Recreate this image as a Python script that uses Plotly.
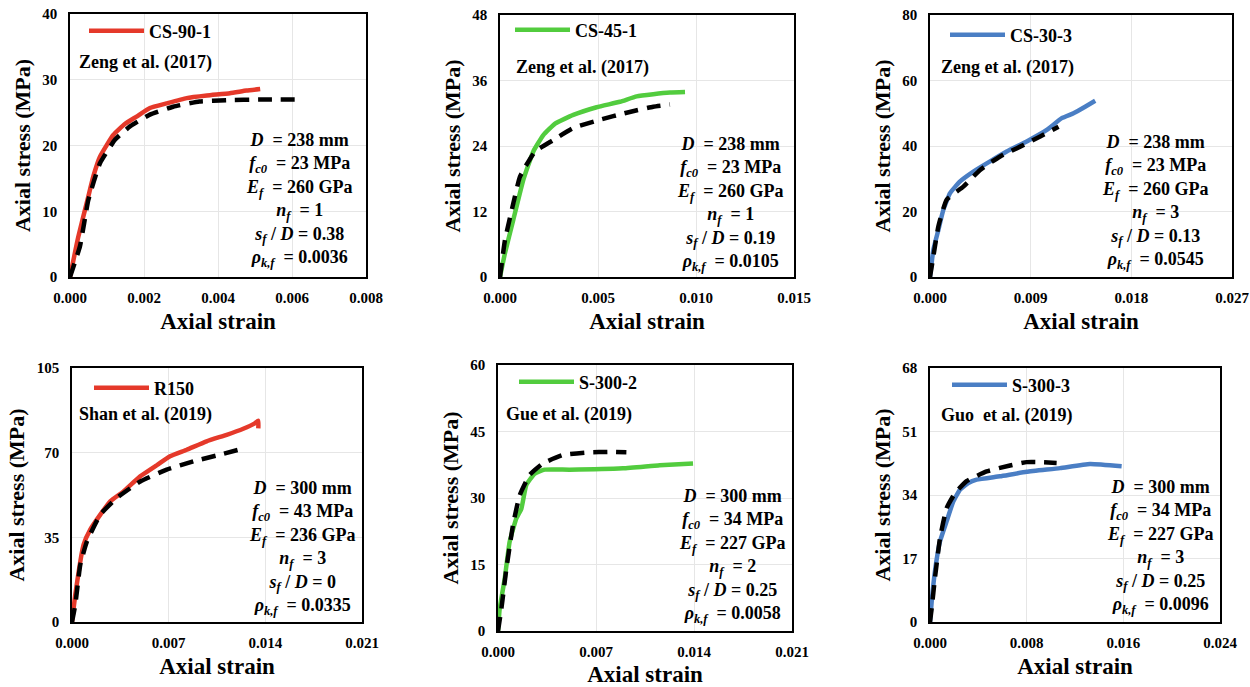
import plotly.graph_objects as go

# ---------------- data ----------------
cs90_test_x = [0, 0.00022, 0.000495, 0.00063, 0.00081, 0.00117, 0.00149, 0.0018, 0.00216, 0.00261, 0.00315, 0.0037, 0.00432, 0.00477, 0.00514]
cs90_test_y = [0, 6.0, 12.25, 15.3, 18.3, 21.6, 23.3, 24.4, 25.7, 26.4, 27.2, 27.6, 27.95, 28.35, 28.6]
cs90_model_x = [0, 0.00027, 0.000495, 0.00081, 0.00122, 0.00162, 0.00216, 0.00279, 0.0035, 0.00423, 0.00514, 0.00617]
cs90_model_y = [0, 4.7, 11.7, 17.3, 20.9, 22.9, 24.7, 25.9, 26.7, 26.9, 27.0, 27.0]

cs45_test_x = [0, 0.000255, 0.00068, 0.00119, 0.0017, 0.00221, 0.00281, 0.00374, 0.00493, 0.00612, 0.00697, 0.00782, 0.00867, 0.00944]
cs45_test_y = [0, 4.4, 10.5, 17.8, 23.0, 26.0, 28.1, 29.7, 31.1, 32.1, 33.1, 33.5, 33.8, 33.9]
cs45_model_x = [0, 0.000255, 0.00068, 0.00102, 0.00179, 0.00272, 0.00374, 0.0051, 0.00646, 0.00782, 0.00867]
cs45_model_y = [0, 6.8, 13.5, 18.4, 23.0, 25.1, 27.3, 28.8, 30.1, 31.2, 31.6]

cs30_test_x = [0, 0.0003, 0.00075, 0.00119, 0.00179, 0.00269, 0.00388, 0.00537, 0.00686, 0.00865, 0.01044, 0.01178, 0.01283, 0.01387, 0.01477]
cs30_test_y = [0, 8.3, 14.4, 20.5, 25.6, 29.2, 32.2, 35.3, 38.3, 41.4, 44.9, 48.5, 50.0, 52.0, 53.8]
cs30_model_x = [0, 0.0003, 0.00075, 0.00149, 0.00298, 0.00448, 0.00627, 0.00806, 0.00985, 0.01149]
cs30_model_y = [0, 6.3, 15.5, 23.6, 27.6, 32.7, 36.8, 39.8, 42.9, 45.9]

r150_test_x = [0, 0.00024, 0.00084, 0.00132, 0.00205, 0.00277, 0.00373, 0.00494, 0.00614, 0.0071, 0.00831, 0.00975, 0.0112, 0.0124, 0.0132, 0.01349, 0.01349]
r150_test_y = [0, 11.3, 32.0, 38.2, 44.4, 49.9, 54.0, 60.2, 64.8, 68.5, 71.2, 74.7, 77.4, 79.9, 82.0, 83.2, 80.0]
r150_model_x = [0, 0.00024, 0.0006, 0.00108, 0.00205, 0.00325, 0.00494, 0.00686, 0.00879, 0.01072, 0.01252]
r150_model_y = [0, 7.2, 23.7, 33.3, 44.4, 51.3, 58.1, 63.0, 66.4, 69.2, 71.9]

s3002_test_x = [0, 0.00012, 0.00048, 0.00083, 0.00131, 0.00167, 0.00202, 0.00262, 0.00333, 0.00512, 0.00893, 0.01155, 0.01393]
s3002_test_y = [0, 5.0, 11.8, 20.1, 25.4, 27.6, 32.9, 35.5, 36.4, 36.4, 36.7, 37.4, 37.8]
s3002_model_x = [0, 0.00024, 0.0006, 0.00107, 0.00155, 0.00226, 0.00321, 0.00464, 0.00655, 0.00786, 0.00917]
s3002_model_y = [0, 5.0, 14.1, 23.9, 30.6, 35.2, 37.8, 39.7, 40.3, 40.4, 40.3]

s3003_test_x = [0, 0.00014, 0.00041, 0.00083, 0.00138, 0.00193, 0.00248, 0.00317, 0.00386, 0.00579, 0.008, 0.01076, 0.01324, 0.01586]
s3003_test_y = [0, 5.5, 13.6, 21.6, 27.0, 32.3, 35.4, 37.2, 38.1, 39.0, 40.2, 41.2, 42.3, 41.7]
s3003_model_x = [0, 0.00014, 0.00041, 0.00083, 0.00138, 0.00207, 0.00303, 0.00469, 0.00662, 0.008, 0.0091, 0.01048]
s3003_model_y = [0, 3.7, 11.8, 22.5, 30.5, 34.5, 37.7, 40.3, 41.9, 42.8, 42.8, 42.6]

specimen_names = ["CS-90-1", "CS-45-1", "CS-30-3", "R150", "S-300-2", "S-300-3"]
sources = ["Zeng et al. (2017)", "Zeng et al. (2017)", "Zeng et al. (2017)",
           "Shan et al. (2019)", "Gue et al. (2019)", "Guo  et al. (2019)"]
x_max = [0.008, 0.015, 0.027, 0.021, 0.021, 0.024]
x_dtick = [0.002, 0.005, 0.009, 0.007, 0.007, 0.008]
y_max = [40, 48, 80, 105, 60, 68]
y_dtick = [10, 12, 20, 35, 15, 17]
D_vals = ["238", "238", "238", "300", "300", "300"]
fc0_vals = ["23", "23", "23", "43", "34", "34"]
Ef_vals = ["260", "260", "260", "236", "227", "227"]
nf_vals = ["1", "1", "3", "3", "2", "3"]
sfD_vals = ["0.38", "0.19", "0.13", "0", "0.25", "0.25"]
rho_vals = ["0.0036", "0.0105", "0.0545", "0.0335", "0.0058", "0.0096"]

tests = [(cs90_test_x, cs90_test_y), (cs45_test_x, cs45_test_y), (cs30_test_x, cs30_test_y),
         (r150_test_x, r150_test_y), (s3002_test_x, s3002_test_y), (s3003_test_x, s3003_test_y)]
models = [(cs90_model_x, cs90_model_y), (cs45_model_x, cs45_model_y), (cs30_model_x, cs30_model_y),
          (r150_model_x, r150_model_y), (s3002_model_x, s3002_model_y), (s3003_model_x, s3003_model_y)]

# ---------------- styling / layout ----------------
W, H = 1250, 687
RED, GREEN, BLUE = "#E5392A", "#52CC3E", "#4A7EC4"
colors = [RED, GREEN, BLUE, RED, GREEN, BLUE]
FONT = "Liberation Serif"

# plot boxes in pixels: (left, right, top, bottom)
boxes = [(70, 366, 14, 277), (500, 794, 15, 277), (930, 1232, 15, 277),
         (72, 362, 368, 622), (498, 792, 365, 631), (930, 1220, 368, 622)]
legend_pos = [(84, 31), (510, 30), (945, 35), (89, 388), (514, 382), (947, 385)]
source_pos = [(77, 63), (514, 67), (939, 67), (77, 414), (504, 414), (939, 415)]
param_pos = [(299, 200), (730, 204), (1155, 202), (302, 548), (732, 556), (1160, 547)]

def px(x):
    return x / W

def py(y):
    return 1 - y / H

fig = go.Figure()
layout = dict(
    width=W, height=H, margin=dict(l=0, r=0, t=0, b=0, autoexpand=False),
    paper_bgcolor="white", plot_bgcolor="white",
    font=dict(family=FONT, color="black"),
)
annotations = []

for i in range(6):
    n = i + 1
    xa = "x" if n == 1 else f"x{n}"
    ya = "y" if n == 1 else f"y{n}"
    leg = "legend" if n == 1 else f"legend{n}"
    tx, ty = tests[i]
    mx, my = models[i]
    fig.add_trace(go.Scatter(x=tx, y=ty, mode="lines", name=specimen_names[i],
                             line=dict(color=colors[i], width=4.5, shape="spline", smoothing=0.4),
                             xaxis=xa, yaxis=ya, legend=leg, showlegend=True))
    fig.add_trace(go.Scatter(x=mx, y=my, mode="lines", name="Model",
                             line=dict(color="black", width=4.5, dash="14px,9px", shape="spline", smoothing=0.4),
                             xaxis=xa, yaxis=ya, showlegend=False))
    l, r, t, b = boxes[i]
    axcommon = dict(showline=True, linecolor="black", linewidth=1.5, mirror=True,
                    showgrid=True, gridcolor="#E6E6E6", gridwidth=1, zeroline=False,
                    ticks="", tickfont=dict(family=FONT, size=15, color="black", weight="bold"))
    layout["xaxis" if n == 1 else f"xaxis{n}"] = dict(
        axcommon, domain=[px(l), px(r)], range=[0, x_max[i]], dtick=x_dtick[i], tick0=0,
        tickformat=".3f", anchor=ya, ticklabelstandoff=6,
        title=dict(text="<b>Axial strain</b>", font=dict(family=FONT, size=23), standoff=8))
    layout["yaxis" if n == 1 else f"yaxis{n}"] = dict(
        axcommon, domain=[py(b), py(t)], range=[0, y_max[i]], dtick=y_dtick[i], tick0=0,
        anchor=xa, ticklabelstandoff=8,
        title=dict(text="<b>Axial stress (MPa)</b>", font=dict(family=FONT, size=22), standoff=6))
    lx, ly = legend_pos[i]
    layout[leg] = dict(x=px(lx), y=py(ly), xanchor="left", yanchor="middle",
                       bgcolor="rgba(0,0,0,0)", borderwidth=0, itemwidth=55,
                       font=dict(family=FONT, size=18, color="black", weight="bold"))
    sx, sy = source_pos[i]
    annotations.append(dict(xref="paper", yref="paper", x=px(sx), y=py(sy),
                            xanchor="left", yanchor="middle", showarrow=False,
                            text=f"<b>{sources[i]}</b>",
                            font=dict(family=FONT, size=18, color="black")))
    cx, cy = param_pos[i]
    block = "<br>".join([
        f"<b><i>D</i>  = {D_vals[i]} mm</b>",
        f"<b><i>f<sub>c0</sub></i>  = {fc0_vals[i]} MPa</b>",
        f"<b><i>E<sub>f</sub></i>  = {Ef_vals[i]} GPa</b>",
        f"<b><i>n<sub>f</sub></i>  = {nf_vals[i]}</b>",
        f"<b><i>s<sub>f</sub></i> / <i>D</i> = {sfD_vals[i]}</b>",
        f"<b><i>ρ<sub>k,f</sub></i>  = {rho_vals[i]}</b>",
    ])
    annotations.append(dict(xref="paper", yref="paper", x=px(cx), y=py(cy),
                            xanchor="center", yanchor="middle", align="center", showarrow=False,
                            text=block, font=dict(family=FONT, size=18, color="black")))

layout["annotations"] = annotations
fig.update_layout(**layout)
fig.write_html("out.html", config={"displayModeBar": False},
               post_script="document.body.style.margin='0px';")
